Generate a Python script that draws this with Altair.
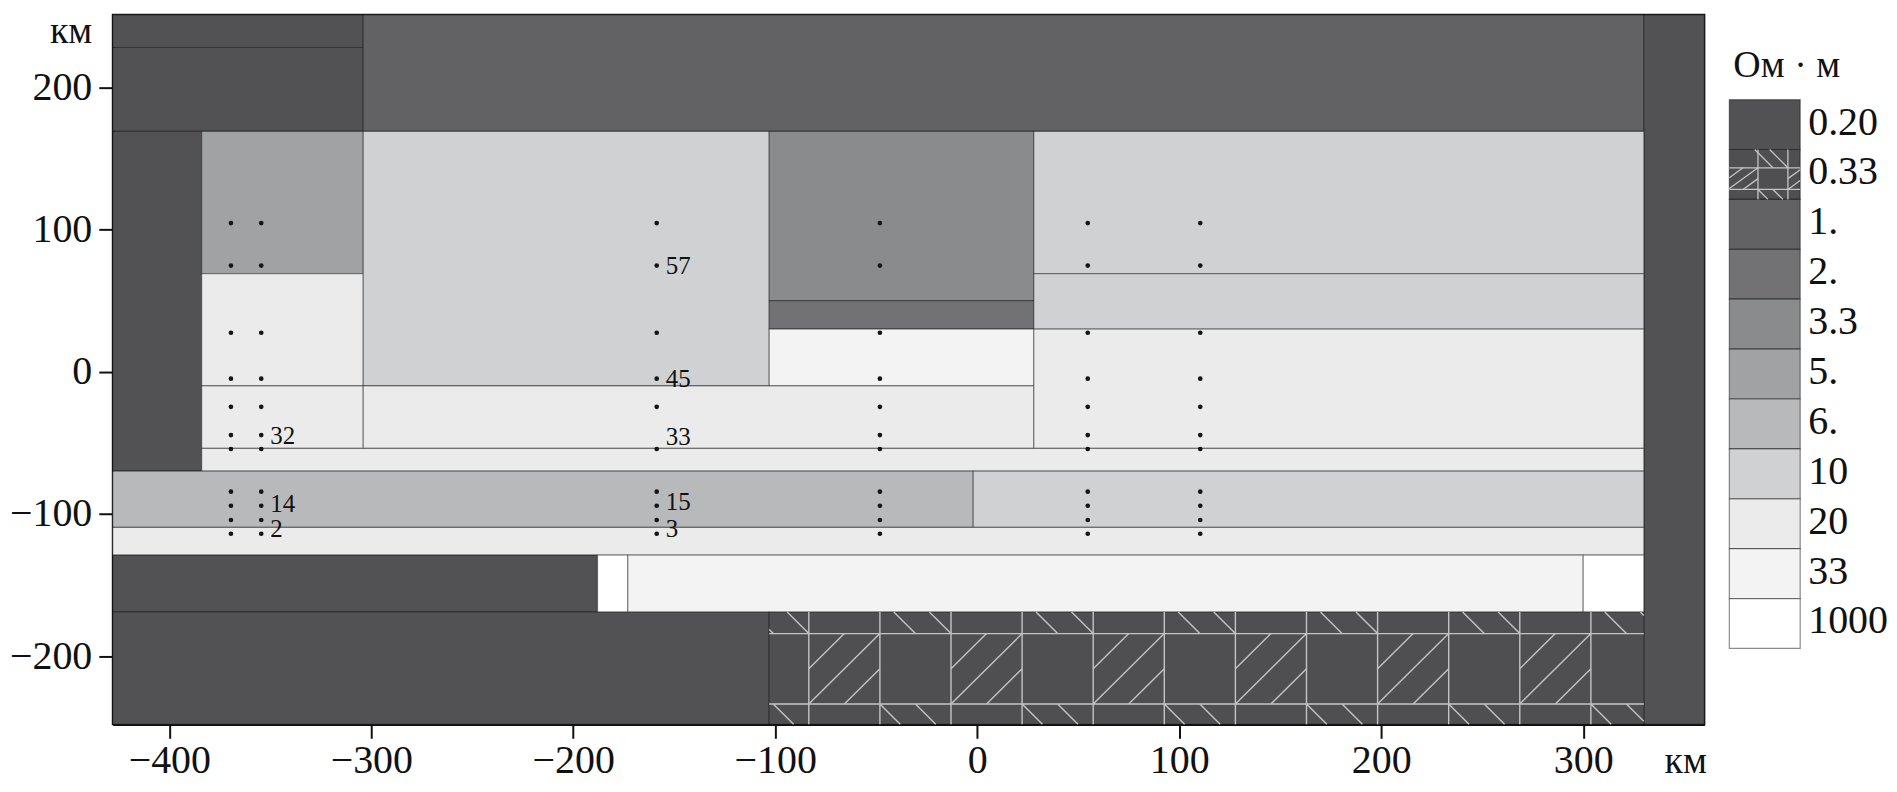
import math
import altair as alt
import pandas as pd

FONT = "Liberation Serif"

# ---------------- data ----------------
# resistivity classes (legend order, Ohm*m) and their grey fills
classes = ["0.20", "0.33", "1.", "2.", "3.3", "5.", "6.", "10", "20", "33", "1000"]
class_fill = ["#525254", "#4f4f51", "#626264", "#727274", "#8a8b8d",
              "#a1a2a4", "#b8b9bb", "#d0d1d3", "#ebebec", "#f3f3f3", "#ffffff"]

# model blocks, km
block_x0 = [-428, -428, -304, 330, -428, -384, -384, -384, -304, -103, -103, -103, -304,
            28, 28, 28, -384, -428, -2, -428, -428, -188, -173, 300, -428, -103]
block_x1 = [-304, -304, 330, 360, -384, -304, -304, -304, -103, 28, 28, 28, 28,
            330, 330, 330, 330, -2, 330, 330, -188, -173, 300, 330, -103, 330]
block_y0 = [228, 169, 169, -248, -70, 69, -10, -54, -10, 50, 30, -10, -54,
            69, 30, -54, -70, -109.5, -109.5, -129, -169, -169, -169, -169, -248, -248]
block_y1 = [251, 228, 251, 251, 169, 169, 69, -10, 169, 169, 50, 30, -10,
            169, 69, 30, -54, -70, -70, -109.5, -129, -129, -129, -129, -169, -169]
block_class = ["0.20", "0.20", "1.", "0.20", "0.20", "5.", "20", "20", "10", "3.3", "2.", "33", "20",
               "10", "10", "20", "20", "6.", "10", "20", "0.20", "1000", "33", "1000", "0.20", "0.33"]

# stations (km) and period depths at which points are plotted
station_x = [-369.5, -354.5, -158.7, -48.2, 54.7, 110.4]
station_depth = [104.5, 74.6, 27.4, -4.9, -24.7, -44.6, -54.4, -84.4, -94.3, -104.3, -114.0]
missing_points = [(-158.7, -44.6)]

# numbers written beside the stations
label_text = ["32", "14", "2", "57", "45", "33", "15", "3"]
label_x = [-354.5, -354.5, -354.5, -158.7, -158.7, -158.7, -158.7, -158.7]
label_y = [-45.1, -93.0, -110.5, 74.3, -4.9, -45.6, -91.6, -110.8]

x_ticks = [-400, -300, -200, -100, 0, 100, 200, 300]
y_ticks = [-200, -100, 0, 100, 200]
x_domain = [-428, 360]
y_domain = [-248, 251]
unit_label = "км"
legend_title = "Ом · м"

# ---------------- layout / style ----------------
W_MAIN, H_MAIN = 1595, 711
LEG_W = 71
LEG_RANGE = [85, 635]
HATCH_COLOR = "#c4c4c4"

# 0.33 fill pattern (main block): cell width, first line, band lines (km)
HATCH_CELL_KM = 35.2
HATCH_FIRST_KM = -83.4
HATCH_BANDS_KM = (-184.2, -233.7)
# 0.33 pattern inside the legend swatch (pixels)
LEG_HATCH = dict(cell=30.0, first=-1.3, b1=18.3, b2=40.0)


def hatch_segments(w, h, cell, first, b1, b2):
    """Line pattern of the 0.33 class in pixel space (u right, v down) of a w x h box."""
    segs = [(0, b1, w, b1), (0, b2, w, b2)]
    half = cell / 2
    mid = (b1 + b2) / 2
    j = math.floor(-first / cell) - 1
    while first + j * cell < w:
        s = first + j * cell
        if 0 < s < w:
            segs.append((s, 0, s, h))
        if j % 2:
            for e in (s + half, s + cell):
                segs.append((e - b1, 0, e, b1))
            for st in (s, s + half):
                segs.append((st, b2, st + (h - b2), h))
        else:
            segs += [(s, mid, s + half, b1), (s, b2, s + cell, b1), (s + half, b2, s + cell, mid)]
        j += 1
    out = []
    for u0, v0, u1, v1 in segs:
        if u1 < u0:
            u0, v0, u1, v1 = u1, v1, u0, v0
        if u1 <= 0 or u0 >= w:
            continue
        du, dv = u1 - u0, v1 - v0
        if du > 0:
            t0 = max(0.0, -u0 / du)
            t1 = min(1.0, (w - u0) / du)
            out.append((u0 + t0 * du, v0 + t0 * dv, u0 + t1 * du, v0 + t1 * dv))
        else:
            out.append((u0, v0, u1, v1))
    return out


# ---------------- tables ----------------
blocks = pd.DataFrame({"x0": block_x0, "x1": block_x1, "y0": block_y0, "y1": block_y1, "cls": block_class})

pts = pd.DataFrame([(x, d) for x in station_x for d in station_depth if (x, d) not in missing_points],
                   columns=["x", "y"])
labs = pd.DataFrame({"x": label_x, "y": label_y, "t": label_text})

# hatch for the 0.33 block(s)
sx = W_MAIN / (x_domain[1] - x_domain[0])
sy = H_MAIN / (y_domain[1] - y_domain[0])
hatch_rows = []
for bx0, bx1, by0, by1, c in zip(block_x0, block_x1, block_y0, block_y1, block_class):
    if c != "0.33":
        continue
    w = (bx1 - bx0) * sx
    h = (by1 - by0) * sy
    segs = hatch_segments(w, h, HATCH_CELL_KM * sx, (HATCH_FIRST_KM - bx0) * sx,
                          (by1 - HATCH_BANDS_KM[0]) * sy, (by1 - HATCH_BANDS_KM[1]) * sy)
    for u0, v0, u1, v1 in segs:
        hatch_rows.append({"xa": bx0 + u0 / sx, "ya": by1 - v0 / sy,
                           "xb": bx0 + u1 / sx, "yb": by1 - v1 / sy})
hatch = pd.DataFrame(hatch_rows)

# ---------------- main chart ----------------
x_scale = alt.Scale(domain=x_domain, nice=False, zero=False)
y_scale = alt.Scale(domain=y_domain, nice=False, zero=False)
fill_scale = alt.Scale(domain=classes, range=class_fill)

axis_common = dict(grid=False, labelFont=FONT, labelFontSize=40, labelColor="#111",
                   tickSize=14, tickWidth=2, tickColor="#111",
                   domainColor="#111", domainWidth=2.5, labelFlush=False,
                   titleFont=FONT, titleFontSize=38, titleFontWeight="normal",
                   titleColor="#111", titleAngle=0, titleBaseline="alphabetic")
x_axis = alt.Axis(values=x_ticks, title=unit_label, titleAlign="right", labelPadding=2,
                  titleX=W_MAIN + 2, titleY=48, **axis_common)
y_axis = alt.Axis(values=y_ticks, title=unit_label, titleAlign="right", labelPadding=7,
                  titleX=-21, titleY=28, **axis_common)

rects = alt.Chart(blocks).mark_rect(stroke="black", strokeOpacity=0.4, strokeWidth=1.2).encode(
    x=alt.X("x0:Q", scale=x_scale, axis=x_axis),
    x2="x1:Q",
    y=alt.Y("y0:Q", scale=y_scale, axis=y_axis),
    y2="y1:Q",
    fill=alt.Fill("cls:N", scale=fill_scale, legend=None),
)

hatch_layer = alt.Chart(hatch).mark_rule(color=HATCH_COLOR, strokeWidth=1.4).encode(
    x=alt.X("xa:Q", scale=x_scale, axis=x_axis),
    x2="xb:Q",
    y=alt.Y("ya:Q", scale=y_scale, axis=y_axis),
    y2="yb:Q",
)

dots = alt.Chart(pts).mark_circle(size=22, color="#141414", opacity=1).encode(
    x=alt.X("x:Q", scale=x_scale, axis=x_axis),
    y=alt.Y("y:Q", scale=y_scale, axis=y_axis),
)

texts = alt.Chart(labs).mark_text(align="left", baseline="middle", dx=9, font=FONT,
                                  fontSize=25, color="#111").encode(
    x=alt.X("x:Q", scale=x_scale, axis=x_axis),
    y=alt.Y("y:Q", scale=y_scale, axis=y_axis),
    text="t:N",
)

main = alt.layer(rects, hatch_layer, dots, texts).properties(
    width=W_MAIN, height=H_MAIN,
    view=alt.ViewBackground(stroke="#1a1a1a", strokeWidth=2),
)

# ---------------- legend panel ----------------
n = len(classes)
leg = pd.DataFrame({"cls": classes, "i0": list(range(n)), "i1": list(range(1, n + 1)),
                    "im": [i + 0.5 for i in range(n)], "a": [0] * n, "b": [1] * n})
lx = alt.Scale(domain=[0, 1], nice=False, zero=False)
ly = alt.Scale(domain=[0, n], range=LEG_RANGE, nice=False, zero=False)
row_px = (LEG_RANGE[1] - LEG_RANGE[0]) / n

leg_hatch_rows = []
k = classes.index("0.33")
for u0, v0, u1, v1 in hatch_segments(LEG_W, row_px, **LEG_HATCH):
    leg_hatch_rows.append({"xa": u0 / LEG_W, "ya": k + v0 / row_px,
                           "xb": u1 / LEG_W, "yb": k + v1 / row_px})
leg_hatch = pd.DataFrame(leg_hatch_rows)

leg_boxes = alt.Chart(leg).mark_rect(stroke="black", strokeOpacity=0.45, strokeWidth=1.2).encode(
    x=alt.X("a:Q", scale=lx, axis=None),
    x2="b:Q",
    y=alt.Y("i0:Q", scale=ly, axis=None),
    y2="i1:Q",
    fill=alt.Fill("cls:N", scale=fill_scale, legend=None),
)
leg_hatch_layer = alt.Chart(leg_hatch).mark_rule(color=HATCH_COLOR, strokeWidth=1.3).encode(
    x=alt.X("xa:Q", scale=lx, axis=None),
    x2="xb:Q",
    y=alt.Y("ya:Q", scale=ly, axis=None),
    y2="yb:Q",
)
leg_labels = alt.Chart(leg).mark_text(align="left", baseline="middle", dx=8, dy=-2, font=FONT,
                                      fontSize=40, color="#111").encode(
    x=alt.X("b:Q", scale=lx, axis=None),
    y=alt.Y("im:Q", scale=ly, axis=None),
    text="cls:N",
)
leg_title = alt.Chart(pd.DataFrame({"t": [legend_title], "a": [0], "i": [0]})).mark_text(
    align="left", baseline="alphabetic", dx=4, dy=-23, font=FONT, fontSize=38, color="#111"
).encode(
    x=alt.X("a:Q", scale=lx, axis=None),
    y=alt.Y("i:Q", scale=ly, axis=None),
    text="t:N",
)

legend = alt.layer(leg_boxes, leg_hatch_layer, leg_labels, leg_title).properties(
    width=LEG_W, height=H_MAIN,
    view=alt.ViewBackground(stroke="transparent"),
)

chart = alt.hconcat(main, legend, spacing=25, bounds="flush").properties(
    padding={"left": 0, "top": 3, "right": 0, "bottom": 0},
    background="white",
)

chart.save("out.html", embed_options={"renderer": "svg", "actions": False})
